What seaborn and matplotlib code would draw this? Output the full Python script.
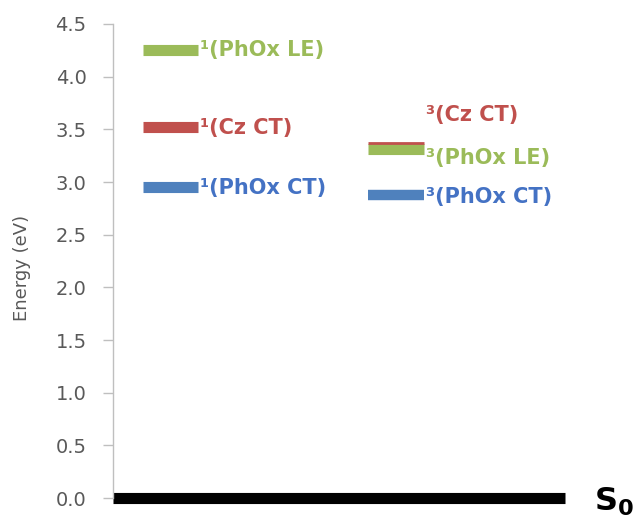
import matplotlib
matplotlib.use("Agg")
import matplotlib.pyplot as plt
import seaborn as sns
import pandas as pd

# ---- data ----
states = ["¹(PhOx LE)", "¹(Cz CT)", "¹(PhOx CT)", "³(Cz CT)", "³(PhOx LE)", "³(PhOx CT)"]
energies = [4.25, 3.52, 2.95, 3.37, 3.31, 2.88]
column = [0, 0, 0, 1, 1, 1]
kinds = ["LE", "CT_Cz", "CT_PhOx", "CT_Cz", "LE", "CT_PhOx"]
ground_label = "S0"
ground_energy = 0.0
yticks = [0.0, 0.5, 1.0, 1.5, 2.0, 2.5, 3.0, 3.5, 4.0, 4.5]

colors = {"LE": "#9BBB59", "CT_Cz": "#C0504D", "CT_PhOx": "#4F81BD"}
text_colors = {"LE": "#9BBB59", "CT_Cz": "#C0504D", "CT_PhOx": "#4472C4"}
col_x = {0: (0.66, 1.86), 1: (5.58, 6.81)}
label_offsets = {"¹(PhOx LE)": 0.0, "¹(Cz CT)": -0.01, "¹(PhOx CT)": -0.01,
                 "³(Cz CT)": 0.27, "³(PhOx LE)": -0.08, "³(PhOx CT)": -0.02}
widths = {"¹(PhOx LE)": 8, "¹(Cz CT)": 8, "¹(PhOx CT)": 8,
          "³(Cz CT)": 2, "³(PhOx LE)": 8, "³(PhOx CT)": 7.5}

sns.set_style("white")
plt.rcParams["font.family"] = ["DejaVu Sans"]
plt.rcParams["mathtext.fontset"] = "dejavusans"

fig = plt.figure(figsize=(6.34, 5.23), dpi=100)
ax = fig.add_axes([113 / 634, 25 / 523, 457 / 634, 474 / 523])

rows = []
for s, e, c, k in zip(states, energies, column, kinds):
    x0, x1 = col_x[c]
    rows.append({"state": s, "x": x0, "E": e, "kind": k})
    rows.append({"state": s, "x": x1, "E": e, "kind": k})
df = pd.DataFrame(rows)

# draw levels (thin red 3(Cz CT) drawn on top of the green one)
order = ["¹(PhOx LE)", "¹(Cz CT)", "¹(PhOx CT)", "³(PhOx LE)", "³(Cz CT)", "³(PhOx CT)"]
for s in order:
    sub = df[df["state"] == s]
    k = sub["kind"].iloc[0]
    sns.lineplot(data=sub, x="x", y="E", color=colors[k], lw=widths[s], ax=ax,
                 solid_capstyle="butt", legend=False)

# ground state
g = pd.DataFrame({"x": [0.0, 9.89], "E": [ground_energy, ground_energy]})
sns.lineplot(data=g, x="x", y="E", color="black", lw=8, ax=ax,
             solid_capstyle="butt", clip_on=False, legend=False)

# labels
for s, e, c, k in zip(states, energies, column, kinds):
    x0, x1 = col_x[c]
    ax.text(x1 + 0.04, e + label_offsets[s], s, color=text_colors[k], fontsize=15,
            fontweight="bold", va="center", ha="left")

ax.text(10.52, -0.04, r"$\mathbf{S_0}$", fontsize=23, color="black",
        va="center", ha="left", clip_on=False)

ax.set_xlim(0, 10)
ax.set_ylim(0, 4.5)
ax.set_yticks(yticks)
ax.set_yticklabels([f"{t:.1f}" for t in yticks])
ax.set_xticks([])
ax.set_xlabel("")
ax.set_ylabel("Energy (eV)", color="#595959", fontsize=13)
ax.yaxis.set_label_coords(-0.18, 0.485)
ax.tick_params(axis="y", colors="#595959", labelsize=14, length=7, width=1,
               direction="out", left=True, pad=12)
ax.tick_params(axis="y", color="#BFBFBF")
for t in ax.get_yticklabels():
    t.set_color("#595959")
for sp in ["top", "right", "bottom"]:
    ax.spines[sp].set_visible(False)
ax.spines["left"].set_color("#BFBFBF")
ax.spines["left"].set_linewidth(1)

fig.savefig("out.png", dpi=100)
